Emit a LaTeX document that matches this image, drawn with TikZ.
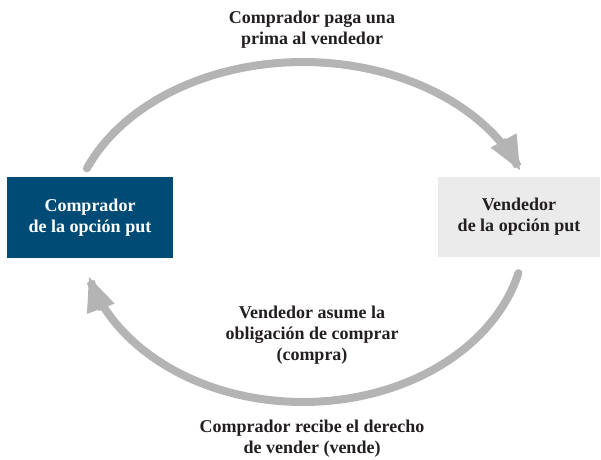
\documentclass[tikz,border=0pt]{standalone}
\usepackage{fontspec}
\setmainfont{Liberation Serif}
\usetikzlibrary{arrows.meta}
\definecolor{boxblue}{RGB}{0,75,118}
\definecolor{boxgray}{RGB}{235,235,235}
\definecolor{arcgray}{RGB}{180,180,180}
\definecolor{txt}{RGB}{35,31,32}
\tikzset{
  lbl/.style={font=\fontsize{18}{21}\selectfont\bfseries, text=txt, align=center, inner sep=0pt},
  bluebox/.style={fill=boxblue, text=white, font=\fontsize{18}{21}\selectfont\bfseries, align=center, inner sep=0pt},
  graybox/.style={fill=boxgray, text=txt, font=\fontsize{18}{21}\selectfont\bfseries, align=center, inner sep=0pt},
  flow/.style={draw=arcgray, line width=8pt, line cap=round, -{Triangle[length=35pt, width=27pt]}}
}
\begin{document}
\begin{tikzpicture}[x=1pt, y=-1pt]
\useasboundingbox (0,0) rectangle (601,459);
\node[bluebox, minimum width=166pt, minimum height=81pt] (buyer) at (90,217.5) {Comprador\\de la opción put};
\node[graybox, minimum width=162pt, minimum height=80pt] (seller) at (519,217) {Vendedor\\de la opción put};
\node[lbl] (top) at (312,30) {Comprador paga una\\prima al vendedor};
\node[lbl] (mid) at (312,335) {Vendedor asume la\\obligación de comprar\\(compra)};
\node[lbl] (bot) at (312,439) {Comprador recibe el derecho\\de vender (vende)};
\draw[flow] plot[domain=158:21, samples=80, variable=\t] ({303+233*cos(\t)},{232-170*sin(\t)});
\draw[flow] plot[domain=-14:-165, samples=80, variable=\t] ({303+222*cos(\t)},{232-170*sin(\t)});
\end{tikzpicture}
\end{document}
